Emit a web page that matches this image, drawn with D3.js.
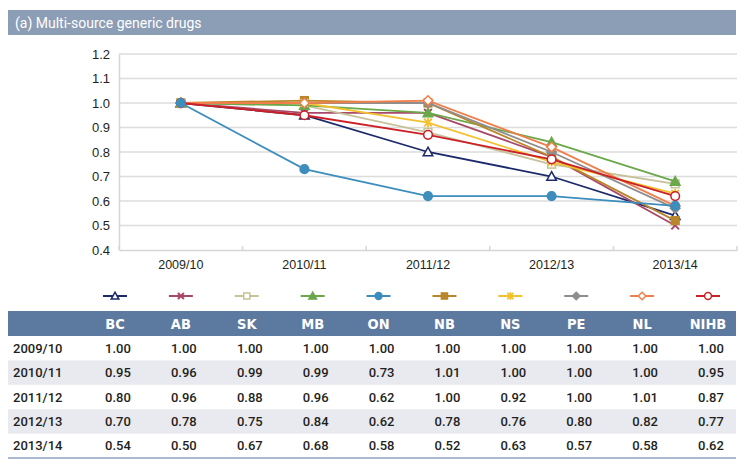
<!DOCTYPE html>
<html><head><meta charset="utf-8">
<script src="https://cdn.jsdelivr.net/npm/d3@7"></script>
<style>
body{margin:0;background:#fff;}
svg{display:block;font-family:Roboto,"DejaVu Sans",sans-serif;}
</style></head>
<body><svg id="c" width="750" height="465"></svg>
<script>
const title = "(a) Multi-source generic drugs";
const periods = ["2009/10","2010/11","2011/12","2012/13","2013/14"];
const seriesNames = ["BC","AB","SK","MB","ON","NB","NS","PE","NL","NIHB"];
const BC   = [1.00,0.95,0.80,0.70,0.54];
const AB   = [1.00,0.96,0.96,0.78,0.50];
const SK   = [1.00,0.99,0.88,0.75,0.67];
const MB   = [1.00,0.99,0.96,0.84,0.68];
const ON   = [1.00,0.73,0.62,0.62,0.58];
const NB   = [1.00,1.01,1.00,0.78,0.52];
const NS   = [1.00,1.00,0.92,0.76,0.63];
const PE   = [1.00,1.00,1.00,0.80,0.57];
const NL   = [1.00,1.00,1.01,0.82,0.58];
const NIHB = [1.00,0.95,0.87,0.77,0.62];
const yTicks = [0.4,0.5,0.6,0.7,0.8,0.9,1.0,1.1,1.2];

const colors = ["#1c2a6b","#a9496a","#c7c29a","#6aa84a","#3d8dbd","#b9862a","#f3c130","#8e8e8e","#f07f4c","#cc1f26"];
const markers = ["triOpen","x","sqOpen","tri","circle","sq","star","diamond","diamondOpen","circleOpen"];
const values = [BC,AB,SK,MB,ON,NB,NS,PE,NL,NIHB];
const series = seriesNames.map((n,i)=>({name:n,values:values[i],color:colors[i],marker:markers[i]}));

const svg = d3.select("#c");
const textColor = "#231f20";
const condensed = '"Liberation Sans Narrow","DejaVu Sans Condensed",Roboto,sans-serif';

// title bar
svg.append("rect").attr("x",8).attr("y",10).attr("width",728).attr("height",25).attr("fill","#8c9db6");
svg.append("text").attr("x",15).attr("y",27.5).attr("fill","#fff").attr("font-size",14).attr("font-weight",400).text(title);

// plot
const L=119,R=737,T=54,B=250;
const x = d3.scaleBand().domain(periods).range([L,R]);
const y = d3.scaleLinear().domain([0.4,1.2]).range([B,T]);
const g = svg.append("g");
g.selectAll("line.grid").data(yTicks.slice(1)).join("line").attr("class","grid")
  .attr("x1",L).attr("x2",R).attr("y1",d=>y(d)).attr("y2",d=>y(d))
  .attr("stroke","#dcdcdc").attr("stroke-width",1.5);
// axes
const yAxis = g.append("g").attr("transform",`translate(${L},0)`).call(d3.axisLeft(y).tickValues(yTicks).tickFormat(d3.format(".1f")).tickSize(0).tickPadding(9));
yAxis.select(".domain").attr("stroke","#d6d6d6").attr("stroke-width",1.5);
yAxis.selectAll("text").attr("font-size",13).attr("fill",textColor).attr("font-weight",500);
const xAxis = g.append("g").attr("transform",`translate(0,${B})`).call(d3.axisBottom(x).tickSize(0).tickPadding(10));
xAxis.select(".domain").attr("stroke","#d6d6d6").attr("stroke-width",1.5);
xAxis.selectAll("text").attr("font-size",12.5).attr("fill",textColor).attr("font-weight",500);
// tick marks (inside, upward) at band boundaries
const bounds = periods.map(p=>x(p)+x.bandwidth()).concat([x(periods[0])]);
g.selectAll("line.tk").data(bounds).join("line").attr("class","tk")
  .attr("x1",d=>d).attr("x2",d=>d).attr("y1",B).attr("y2",B-4).attr("stroke","#d6d6d6").attr("stroke-width",1.5);

function drawMarker(sel, type, color, s){
  s = s||4.8;
  switch(type){
    case "triOpen": case "tri":
      sel.append("path").attr("d",`M0,${-s}L${s},${s*0.8}L${-s},${s*0.8}Z`)
        .attr("fill",type==="tri"?color:"#fff").attr("stroke",color).attr("stroke-width",1.5); break;
    case "x":
      sel.append("path").attr("d",`M${-s*0.8},${-s*0.8}L${s*0.8},${s*0.8}M${-s*0.8},${s*0.8}L${s*0.8},${-s*0.8}`)
        .attr("stroke",color).attr("stroke-width",2).attr("fill","none"); break;
    case "star":
      sel.append("path").attr("d",`M${-s*0.8},${-s*0.8}L${s*0.8},${s*0.8}M${-s*0.8},${s*0.8}L${s*0.8},${-s*0.8}M0,${-s}L0,${s}`)
        .attr("stroke",color).attr("stroke-width",1.8).attr("fill","none"); break;
    case "sqOpen": case "sq":
      sel.append("rect").attr("x",-s*0.8).attr("y",-s*0.8).attr("width",s*1.6).attr("height",s*1.6)
        .attr("fill",type==="sq"?color:"#fff").attr("stroke",color).attr("stroke-width",1.5); break;
    case "circle": case "circleOpen":
      sel.append("circle").attr("r",s*0.9).attr("fill",type==="circle"?color:"#fff").attr("stroke",color).attr("stroke-width",1.5); break;
    case "diamond": case "diamondOpen":
      sel.append("path").attr("d",`M0,${-s}L${s},0L0,${s}L${-s},0Z`)
        .attr("fill",type==="diamond"?color:"#fff").attr("stroke",color).attr("stroke-width",1.5); break;
  }
}

const line = d3.line().x((d,i)=>x(periods[i])+x.bandwidth()/2).y(d=>y(d));
const order = [0,1,2,3,5,6,7,8,9,4];
order.forEach(i=>{
  const s = series[i];
  const sg = g.append("g");
  sg.append("path").attr("d",line(s.values)).attr("fill","none").attr("stroke",s.color).attr("stroke-width",1.8);
  s.values.forEach((v,j)=>{
    const m = sg.append("g").attr("transform",`translate(${x(periods[j])+x.bandwidth()/2},${y(v)})`);
    drawMarker(m,s.marker,s.color);
  });
});

// legend / table columns
const col = d3.scalePoint().domain(seriesNames).range([115,708]);
const legend = svg.append("g");
series.forEach(s=>{
  const lg = legend.append("g").attr("transform",`translate(${col(s.name)},296)`);
  lg.append("line").attr("x1",-12).attr("x2",12).attr("stroke",s.color).attr("stroke-width",2);
  drawMarker(lg,s.marker,s.color,3.8);
});

// table
const rowY = d3.scaleBand().domain(periods).range([336,458]);
svg.append("rect").attr("x",8).attr("y",311).attr("width",728).attr("height",25).attr("fill","#5c7a9f");
svg.selectAll("text.hd").data(seriesNames).join("text").attr("class","hd")
  .attr("x",d=>col(d)).attr("y",328.5).attr("text-anchor","middle").attr("fill","#fff")
  .attr("font-family",condensed).attr("font-size",14.5).attr("font-weight",700).text(d=>d);
periods.forEach((p,i)=>{
  if(i%2===1) svg.append("rect").attr("x",8).attr("y",rowY(p)).attr("width",728).attr("height",rowY.bandwidth()).attr("fill","#e9eaef");
  svg.append("text").attr("x",13).attr("y",rowY(p)+rowY.bandwidth()/2+4.5).attr("fill",textColor)
    .attr("font-size",13).attr("font-weight",500).text(p);
  series.forEach(s=>{
    svg.append("text").attr("x",col(s.name)+3).attr("y",rowY(p)+rowY.bandwidth()/2+4.5).attr("text-anchor","middle")
      .attr("fill",textColor).attr("font-size",13).attr("font-weight",500).text(d3.format(".2f")(s.values[i]));
  });
});
svg.append("line").attr("x1",8).attr("x2",736).attr("y1",458).attr("y2",458).attr("stroke","#8fa3c0").attr("stroke-width",1.5);
</script></body></html>
